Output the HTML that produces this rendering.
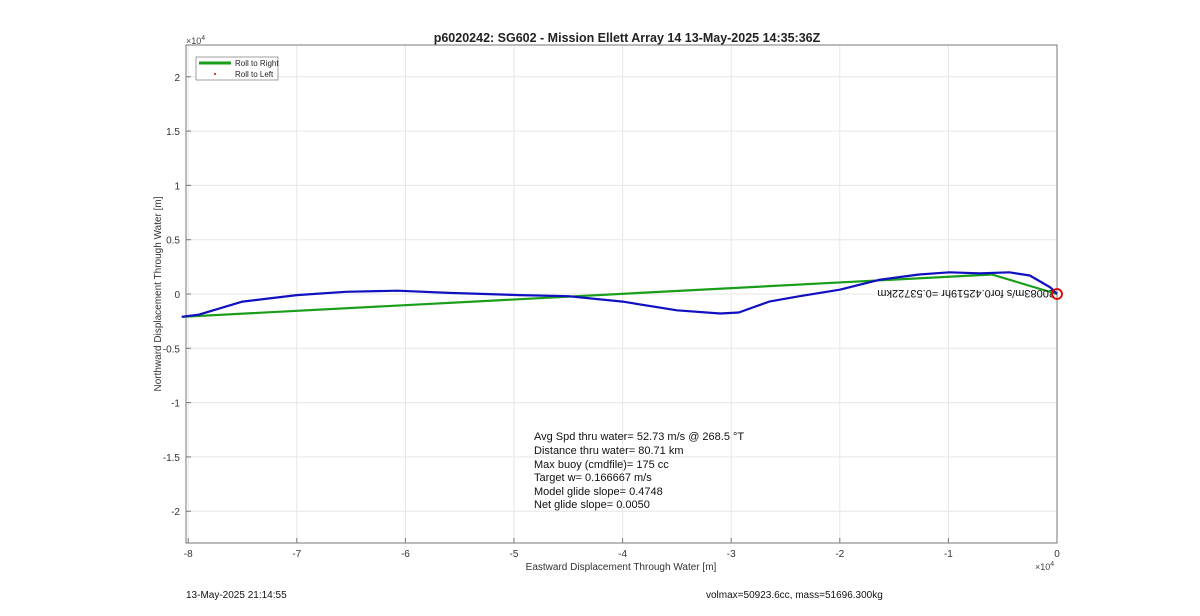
<!DOCTYPE html>
<html><head><meta charset="utf-8"><style>
body{margin:0;background:#fff;width:1200px;height:611px;overflow:hidden;font-family:"Liberation Sans",sans-serif}
svg text{font-family:"Liberation Sans",sans-serif}
</style></head><body>
<svg id="chart" width="1200" height="611">
<g id="grid"></g><g id="axes"></g><g id="series"></g>
<text x="627" y="42" text-anchor="middle" font-size="12.5" font-weight="bold" fill="#222">p6020242: SG602 - Mission Ellett Array 14 13-May-2025 14:35:36Z</text>
<text x="621" y="570" text-anchor="middle" font-size="10" fill="#333">Eastward Displacement Through Water [m]</text>
<text transform="translate(161,294) rotate(-90)" text-anchor="middle" font-size="10" fill="#333">Northward Displacement Through Water [m]</text>
<text x="186" y="44" font-size="9" fill="#444">×10<tspan dy="-4" font-size="7">4</tspan></text>
<text x="1035" y="570" font-size="9" fill="#444">×10<tspan dy="-4" font-size="7">4</tspan></text>
<g font-size="11" fill="#111">
<text x="534" y="440">Avg Spd thru water= 52.73 m/s @ 268.5 °T</text>
<text x="534" y="454">Distance thru water= 80.71 km</text>
<text x="534" y="468">Max buoy (cmdfile)= 175 cc</text>
<text x="534" y="481">Target w= 0.166667 m/s</text>
<text x="534" y="495">Model glide slope= 0.4748</text>
<text x="534" y="508">Net glide slope= 0.0050</text>
</g>
<text transform="translate(1055,290) rotate(180)" font-size="11" fill="#111">20083m/s for0.42519hr =0.53722km</text>
<circle cx="1057" cy="294" r="5" fill="none" stroke="#d00" stroke-width="1.8"/>
<g>
<rect x="196" y="57" width="82" height="23" fill="#fff" stroke="#888" stroke-width="0.8"/>
<line x1="199" y1="63" x2="231" y2="63" stroke="#1a9e1a" stroke-width="3"/>
<text x="235" y="66" font-size="8" fill="#222">Roll to Right</text>
<circle cx="215" cy="74" r="1" fill="#c00"/>
<text x="235" y="77" font-size="8" fill="#222">Roll to Left</text>
</g>
<text x="186" y="598" font-size="10" fill="#111">13-May-2025 21:14:55</text>
<text x="706" y="598" font-size="10" fill="#111">volmax=50923.6cc, mass=51696.300kg</text>
</svg>
<script>
const xTicks=[-8,-7,-6,-5,-4,-3,-2,-1,0];
const yTicks=[2,1.5,1,0.5,0,-0.5,-1,-1.5,-2];
const yTickLabels=["2","1.5","1","0.5","0","-0.5","-1","-1.5","-2"];
const blueX=[-8.06,-7.9,-7.5,-7.0,-6.55,-6.07,-5.6,-4.95,-4.5,-4.0,-3.5,-3.1,-2.93,-2.65,-2.37,-2.0,-1.64,-1.27,-0.99,-0.71,-0.44,-0.25,-0.06,0];
const blueY=[-0.21,-0.19,-0.07,-0.01,0.02,0.03,0.01,-0.01,-0.02,-0.07,-0.15,-0.18,-0.17,-0.07,-0.02,0.04,0.13,0.18,0.20,0.19,0.20,0.17,0.06,0];
const greenX=[-8.05,-0.6,0];
const greenY=[-0.21,0.18,0];
const L=186,R=1057,T=45,B=543;
const sx=v=>1057+v*108.6, sy=v=>294-v*108.6;
const ns="http://www.w3.org/2000/svg";
function mk(tag,attrs,parent){const e=document.createElementNS(ns,tag);for(const k in attrs)e.setAttribute(k,attrs[k]);parent.appendChild(e);return e;}
const grid=document.getElementById('grid'),axes=document.getElementById('axes'),ser=document.getElementById('series');
mk('rect',{x:L,y:T,width:R-L,height:B-T,fill:'#fff',stroke:'#777','stroke-width':1},grid);
xTicks.forEach(v=>{const x=sx(v);
 const g=mk('line',{x1:x,y1:T,x2:x,y2:B,stroke:'#e6e6e6'},grid);
 
 
 mk('line',{x1:x,y1:B,x2:x,y2:B-5,stroke:'#777'},axes);
 const t=mk('text',{x:x,y:B+14,'text-anchor':'middle','font-size':10,fill:'#333'},axes);t.textContent=String(v);
 
 });
yTicks.forEach((v,i)=>{const y=sy(v);
 const g=mk('line',{x1:L,y1:y,x2:R,y2:y,stroke:'#e6e6e6'},grid);
 
 
 mk('line',{x1:L,y1:y,x2:L+5,y2:y,stroke:'#777'},axes);
 const t=mk('text',{x:L-6,y:y+4,'text-anchor':'end','font-size':10,fill:'#333'},axes);t.textContent=yTickLabels[i];
 
 });
mk('rect',{x:L,y:T,width:R-L,height:B-T,fill:'none',stroke:'#777','stroke-width':1},axes);
function path(xs,ys){return xs.map((x,i)=>(i?'L':'M')+sx(x).toFixed(1)+','+sy(ys[i]).toFixed(1)).join('');}
const gp=mk('path',{d:path(greenX,greenY),fill:'none',stroke:'#1a9e1a','stroke-width':2.2},ser);


const bp=mk('path',{d:path(blueX,blueY),fill:'none',stroke:'#1010c0','stroke-width':2.2,'stroke-linejoin':'round'},ser);


</script>
</body></html>
